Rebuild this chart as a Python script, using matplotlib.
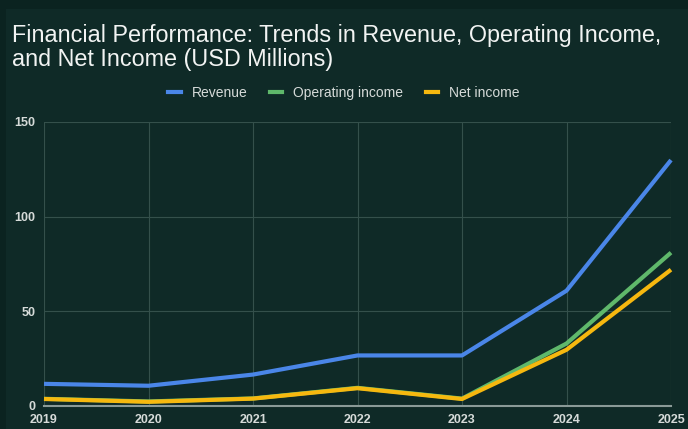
import matplotlib
matplotlib.use("Agg")
import matplotlib.pyplot as plt
from matplotlib.patches import Rectangle
from matplotlib.lines import Line2D

plt.rcParams['font.family'] = ['Liberation Sans', 'DejaVu Sans']

years = [2019, 2020, 2021, 2022, 2023, 2024, 2025]
revenue = [11.7, 10.7, 16.6, 26.7, 26.7, 60.9, 129.9]
operating_income = [3.8, 2.4, 4.0, 9.6, 3.9, 33.0, 81.0]
net_income = [3.7, 2.2, 3.9, 9.4, 3.7, 29.7, 72.0]
series_names = ["Revenue", "Operating income", "Net income"]
colors = ["#4a86e8", "#5fb86b", "#f6b80f"]
title = "Financial Performance: Trends in Revenue, Operating Income,\nand Net Income (USD Millions)"

outer_bg = "#0b2320"
inner_bg = "#0f2a27"
grid_c = "#34504b"
text_c = "#d6dbd9"

fig = plt.figure(figsize=(6.88, 4.29), dpi=100)
fig.patch.set_facecolor(outer_bg)
fig.patches.append(Rectangle((6/688, 0), 1, 1 - 9/429, transform=fig.transFigure,
                             facecolor=inner_bg, edgecolor='none', zorder=-5))

ax = fig.add_axes([44/688, 1 - 406/429, (671 - 44)/688, (406 - 122)/429])
ax.set_zorder(2)
ax.set_facecolor(inner_bg)

for vals, c, name in zip([revenue, operating_income, net_income], colors, series_names):
    ax.plot(years, vals, color=c, lw=3.0, solid_capstyle='butt', solid_joinstyle='round',
            label=name, zorder=3, clip_on=False)

ax.set_xlim(2019, 2025)
ax.set_ylim(0, 150)
ax.set_xticks(years)
ax.set_yticks([0, 50, 100, 150])
ax.grid(True, color=grid_c, lw=0.8, zorder=0)
for s in ['top', 'right', 'left']:
    ax.spines[s].set_visible(False)
ax.spines['bottom'].set_color('#8a9a97')
ax.spines['bottom'].set_linewidth(1.5)
ax.tick_params(axis='both', length=0, colors=text_c, labelsize=9)
ax.tick_params(axis='y', pad=6)
ax.tick_params(axis='x', pad=6)
for lab in ax.get_xticklabels() + ax.get_yticklabels():
    lab.set_fontweight('bold')

fig.text(12/688, 1 - 24/429, title, ha='left', va='top', color='#f2f4f3',
         fontsize=16.8, linespacing=1.05)

handles = [Line2D([0], [0], color=c, lw=3) for c in colors]
leg = fig.legend(handles, series_names, loc='center', bbox_to_anchor=(344/688, 1 - 93/429),
                 ncol=3, frameon=False, fontsize=10, handlelength=0.9, handletextpad=0.8,
                 columnspacing=1.6)
for t in leg.get_texts():
    t.set_color(text_c)

fig.savefig("out.png", dpi=100, facecolor=fig.get_facecolor())
